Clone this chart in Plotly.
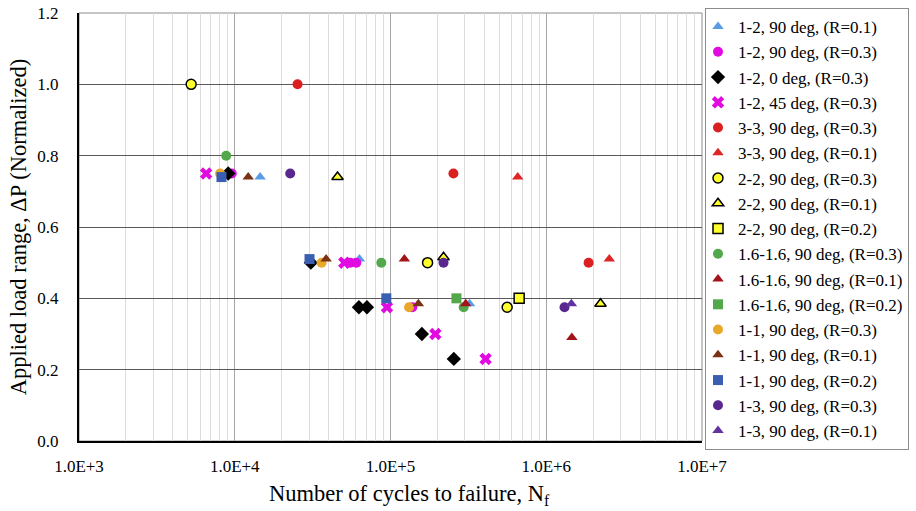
import plotly.graph_objects as go

# Fatigue test results: cycles to failure vs normalized load range
series_names = [
    "1-2, 90 deg, (R=0.1)", "1-2, 90 deg, (R=0.3)", "1-2, 0 deg, (R=0.3)",
    "1-2, 45 deg, (R=0.3)", "3-3, 90 deg, (R=0.3)", "3-3, 90 deg, (R=0.1)",
    "2-2, 90 deg, (R=0.3)", "2-2, 90 deg, (R=0.1)", "2-2, 90 deg, (R=0.2)",
    "1.6-1.6, 90 deg, (R=0.3)", "1.6-1.6, 90 deg, (R=0.1)", "1.6-1.6, 90 deg, (R=0.2)",
    "1-1, 90 deg, (R=0.3)", "1-1, 90 deg, (R=0.1)", "1-1, 90 deg, (R=0.2)",
    "1-3, 90 deg, (R=0.3)", "1-3, 90 deg, (R=0.1)",
]

cycles_12_90_r01 = [14550, 63200, 322000]
load_12_90_r01 = [0.74, 0.51, 0.385]

cycles_12_90_r03 = [9570, 55200, 60300, 138000]
load_12_90_r03 = [0.75, 0.50, 0.50, 0.375]

cycles_12_0_r03 = [9080, 30800, 62700, 70600, 159000, 255000]
load_12_0_r03 = [0.75, 0.50, 0.375, 0.375, 0.30, 0.23]

cycles_12_45_r03 = [6550, 50500, 94900, 194000, 408000]
load_12_45_r03 = [0.75, 0.50, 0.375, 0.30, 0.23]

cycles_33_90_r03 = [25300, 253500, 1870000]
load_33_90_r03 = [1.00, 0.75, 0.50]

cycles_33_90_r01 = [656000, 2540000]
load_33_90_r01 = [0.74, 0.51]

cycles_22_90_r03 = [5250, 173000, 561000]
load_22_90_r03 = [1.00, 0.50, 0.375]

cycles_22_90_r01 = [45700, 219000, 2230000]
load_22_90_r01 = [0.74, 0.515, 0.385]

cycles_22_90_r02 = [670000]
load_22_90_r02 = [0.40]

cycles_1616_90_r03 = [8810, 87300, 295000]
load_1616_90_r03 = [0.80, 0.50, 0.375]

cycles_1616_90_r01 = [122800, 304000, 1460000]
load_1616_90_r01 = [0.51, 0.385, 0.29]

cycles_1616_90_r02 = [265000]
load_1616_90_r02 = [0.40]

cycles_11_90_r03 = [8050, 36100, 131500]
load_11_90_r03 = [0.75, 0.50, 0.375]

cycles_11_90_r01 = [12200, 38600, 151000]
load_11_90_r01 = [0.74, 0.51, 0.385]

cycles_11_90_r02 = [8220, 30200, 94000]
load_11_90_r02 = [0.74, 0.51, 0.40]

cycles_13_90_r03 = [22700, 219000, 1310000]
load_13_90_r03 = [0.75, 0.50, 0.375]

cycles_13_90_r01 = [1450000]
load_13_90_r01 = [0.385]

x_tick_values = [1e3, 1e4, 1e5, 1e6, 1e7]
x_tick_labels = ["1.0E+3", "1.0E+4", "1.0E+5", "1.0E+6", "1.0E+7"]
y_tick_values = [0.0, 0.2, 0.4, 0.6, 0.8, 1.0, 1.2]

all_cycles = [
    cycles_12_90_r01, cycles_12_90_r03, cycles_12_0_r03, cycles_12_45_r03,
    cycles_33_90_r03, cycles_33_90_r01, cycles_22_90_r03, cycles_22_90_r01,
    cycles_22_90_r02, cycles_1616_90_r03, cycles_1616_90_r01, cycles_1616_90_r02,
    cycles_11_90_r03, cycles_11_90_r01, cycles_11_90_r02, cycles_13_90_r03,
    cycles_13_90_r01,
]
all_loads = [
    load_12_90_r01, load_12_90_r03, load_12_0_r03, load_12_45_r03,
    load_33_90_r03, load_33_90_r01, load_22_90_r03, load_22_90_r01,
    load_22_90_r02, load_1616_90_r03, load_1616_90_r01, load_1616_90_r02,
    load_11_90_r03, load_11_90_r01, load_11_90_r02, load_13_90_r03,
    load_13_90_r01,
]

# (symbol, fill colour, outline colour, outline width, size)
styles = [
    ("triangle-up", "#5A9BE6", "#5A9BE6", 0, 10),
    ("circle", "#E10AE1", "#E10AE1", 0, 10),
    ("diamond", "#000000", "#000000", 0, 11),
    ("x", "#E10AE1", "#E10AE1", 0, 11),
    ("circle", "#DA2020", "#DA2020", 0, 10),
    ("triangle-up", "#DF2626", "#DF2626", 0, 10),
    ("circle", "#FFFF2E", "#000000", 1.5, 10),
    ("triangle-up", "#FFFF2E", "#000000", 1.5, 10),
    ("square", "#FFFF2E", "#000000", 1.5, 10),
    ("circle", "#52A84A", "#52A84A", 0, 10),
    ("triangle-up", "#A3141A", "#A3141A", 0, 10),
    ("square", "#52A84A", "#52A84A", 0, 10),
    ("circle", "#E8A92A", "#E8A92A", 0, 10),
    ("triangle-up", "#7B3114", "#7B3114", 0, 10),
    ("square", "#3A5EB2", "#3A5EB2", 0, 10),
    ("circle", "#59288F", "#59288F", 0, 10),
    ("triangle-up", "#6232A0", "#6232A0", 0, 10),
]

serif = "Liberation Serif, Times New Roman, serif"

fig = go.Figure()
for name, xs, ys, (sym, fill, edge, lw, size) in zip(series_names, all_cycles, all_loads, styles):
    fig.add_trace(go.Scatter(
        x=xs, y=ys, mode="markers", name=name, legendgroup=name,
        marker=dict(symbol=sym, color=fill, size=size,
                    line=dict(color=edge, width=lw)),
    ))

minor_grid = [k * 10 ** e for e in range(3, 7) for k in range(2, 10)]

# plot area spans 79..702 px; the legend sits to its right inside the paper
ml, mr, mt, mb = 79, 0, 13, 70
paper_w = 916 - ml - mr
paper_h = 511 - mt - mb
x_domain_end = (702 - ml) / paper_w
legend_x = (705 - ml) / paper_w
legend_y = 1 + 5 / paper_h

fig.update_layout(
    width=916, height=511,
    margin=dict(l=ml, r=mr, t=mt, b=mb, autoexpand=False),
    paper_bgcolor="white", plot_bgcolor="white",
    font=dict(family=serif, size=16, color="#000000"),
    showlegend=True,
    legend=dict(
        x=legend_x, xanchor="left", y=legend_y, yanchor="top",
        bordercolor="#8C8C8C", borderwidth=1, bgcolor="white",
        font=dict(family=serif, size=17), tracegroupgap=0.15,
        itemwidth=30, indentation=-8, maxheight=500,
    ),
    xaxis=dict(
        type="log", range=[3, 7], domain=[0, x_domain_end],
        tickmode="array", tickvals=x_tick_values, ticktext=x_tick_labels,
        showgrid=True, gridcolor="#A6A6A6", gridwidth=1,
        minor=dict(tickmode="array", tickvals=minor_grid, showgrid=True,
                   gridcolor="#DCDCDC", gridwidth=1, ticks=""),
        showline=True, linecolor="#000000", linewidth=2,
        ticks="outside", ticklen=9, tickcolor="rgba(0,0,0,0)",
        tickfont=dict(family=serif, size=17),
        zeroline=False,
    ),
    yaxis=dict(
        range=[0, 1.2], tickmode="array", tickvals=y_tick_values,
        tickformat=".1f",
        showgrid=True, gridcolor="#595959", gridwidth=1,
        showline=True, linecolor="#000000", linewidth=2,
        ticks="outside", ticklen=15, tickcolor="rgba(0,0,0,0)",
        tickfont=dict(family=serif, size=17),
        title=dict(text="Applied load range, ΔP (Normalized)",
                   font=dict(family=serif, size=22.5), standoff=4),
        zeroline=False,
    ),
)

# x-axis title, set a little right of the plot centre
fig.add_annotation(
    text="Number of cycles to failure, N<sub>f</sub>",
    xref="paper", yref="paper", x=(409 - ml) / paper_w, y=0,
    xanchor="center", yanchor="middle", yshift=-54, showarrow=False,
    font=dict(family=serif, size=22.5, color="#000000"),
)

# plot-area frame on the top and right sides
fig.add_shape(type="rect", xref="x domain", yref="y domain",
              x0=0, x1=1, y0=0, y1=1, layer="below",
              line=dict(color="#8C8C8C", width=1), fillcolor="rgba(0,0,0,0)")

fig.write_html("out.html")
